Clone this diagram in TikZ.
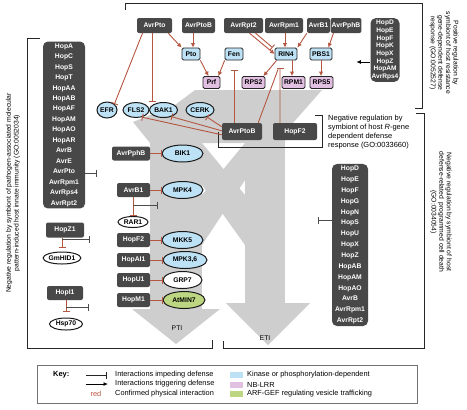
\documentclass[tikz,border=0pt]{standalone}
\usepackage{fontspec}
\setmainfont{Liberation Sans}
\usepackage{tikz}
\usetikzlibrary{arrows.meta,shapes.geometric}
\definecolor{effgray}{RGB}{72,72,72}
\definecolor{kinblue}{RGB}{190,226,245}
\definecolor{nbpink}{RGB}{226,192,226}
\definecolor{gefgreen}{RGB}{188,214,130}
\definecolor{physred}{RGB}{180,86,64}
\definecolor{flowgray}{RGB}{206,206,206}

\begin{document}
\begin{tikzpicture}[x=1bp,y=-1bp]
\tikzset{effector/.style={fill=effgray,text=white,rounded corners=2bp,inner xsep=1bp,inner ysep=0pt,minimum height=15bp,font=\fontsize{6.8}{7}\selectfont\bfseries}}
\tikzset{effectorlist/.style={effector,align=center,rounded corners=5bp,inner ysep=2bp}}
\tikzset{kinbox/.style={draw=black!85,fill=kinblue,rounded corners=1.5bp,line width=0.8bp,inner sep=1bp,minimum height=12bp,font=\fontsize{6.8}{7}\selectfont\bfseries}}
\tikzset{nbbox/.style={kinbox,fill=nbpink}}
\tikzset{kinell/.style={ellipse,draw=black!90,fill=kinblue,line width=1bp,inner sep=0pt,font=\fontsize{6.8}{7}\selectfont\bfseries}}
\tikzset{hostell/.style={kinell,fill=white},gefell/.style={kinell,fill=gefgreen}}
\tikzset{act/.style={draw=physred,line width=0.9bp,-{Latex[length=4.5bp,width=4.5bp]}}}
\tikzset{inh/.style={draw=physred,line width=0.9bp,-{Bar[width=7bp]}}}
\tikzset{ginh/.style={draw=black!70,line width=0.9bp,-{Bar[width=7bp]}}}
\tikzset{gact/.style={draw=black,line width=0.9bp,-{Latex[length=4.5bp,width=4bp]}}}
\tikzset{bracket/.style={draw=black!85,line width=0.8bp}}
\tikzset{note/.style={font=\fontsize{6.8}{7.6}\selectfont,align=center}}
\tikzset{keytext/.style={font=\fontsize{7.4}{8}\selectfont,anchor=west,inner sep=0pt}}

\useasboundingbox (0,0) rectangle (467,409);

% grey PTI / ETI flows
\fill[flowgray] (133,122) -- (175,105) -- (195,90) -- (322,90) -- (285,132) -- (285,143) -- (150,143) -- cycle;
\fill[flowgray] (150,140) rectangle (202,310);
\fill[flowgray] (132,309) -- (220,309) -- (176,344) -- cycle;
\fill[flowgray] (245,130) rectangle (285,304);
\fill[flowgray] (226,303) -- (310,303) -- (268,345) -- cycle;
\fill[flowgray] (202,143) -- (202,185) -- (245,245) -- (245,195) -- cycle;
\fill[flowgray] (245,143) -- (245,180) -- (202,245) -- (202,195) -- cycle;
\node[font=\fontsize{6.8}{8}\selectfont] (ptilabel) at (177,328) {PTI};
\node[font=\fontsize{6.8}{8}\selectfont] (etilabel) at (265,338) {ETI};

% brackets and their notes
\draw[bracket] (125,10) -- (125,3) -- (422,3) -- (422,108) -- (415,108);
\draw[bracket] (416,113) -- (424,113) -- (424,348) -- (223,348) -- (223,341);
\draw[bracket] (40,38) -- (27,38) -- (27,348) -- (212,348) -- (212,340);
\draw[bracket] (218,132) -- (218,147) -- (322,147) -- (322,115) -- (315,115);
\node[note,rotate=90] (ptinote) at (13,193) {Negative regulation by symbiont of pathogen-associated molecular\\pattern-induced host innate immunity (GO:0052034)};
\node[note,rotate=-90] (rgenenote) at (444,53) {Positive regulation by\\symbiont of host resistance\\gene-dependent defense\\response (GO:0052527)};
\node[note,rotate=-90] (etinote) at (441,212) {Negative regulation by symbiont of host\\defense-related\ \ programmed cell death\\(GO:0034054)};
\node[font=\fontsize{7.5}{9}\selectfont,align=left,anchor=north west,inner sep=0pt] (avrnote) at (328,115) {Negative regulation by\\symbiont of host \textit{R}-gene\\dependent defense\\response (GO:0033660)};

% ETI effectors and R-proteins
\node[effector,minimum width=35bp] (avrpto) at (154.5,25.5) {AvrPto};
\node[effector,minimum width=33bp] (avrptob) at (198.5,25.5) {AvrPtoB};
\node[effector,minimum width=39bp] (avrrpt2) at (243.5,25.5) {AvrRpt2};
\node[effector,minimum width=38bp] (avrrpm1) at (284,25.5) {AvrRpm1};
\node[effector,minimum width=23bp] (avrb1) at (318.5,25.5) {AvrB1};
\node[effector,minimum width=27bp] (avrpphb) at (346,25.5) {AvrPphB};
\node[effectorlist,minimum width=29bp,font=\fontsize{6.6}{7.7}\selectfont\bfseries] (rgenelist) at (385,50) {HopD\\HopE\\HopF\\HopK\\HopX\\HopZ\\HopAM\\AvrRps4};
\node[kinbox,minimum width=18bp] (pto) at (191,54) {Pto};
\node[kinbox,minimum width=18bp] (fen) at (234,54) {Fen};
\node[kinbox,minimum width=22bp] (rin4) at (286,54) {RIN4};
\node[kinbox,minimum width=22bp] (pbs1) at (321,54) {PBS1};
\node[nbbox,minimum width=17bp] (prf) at (211.5,82.5) {Prf};
\node[nbbox,minimum width=23bp] (rps2) at (253.5,82.5) {RPS2};
\node[nbbox,minimum width=23bp] (rpm1) at (293.5,82.5) {RPM1};
\node[nbbox,minimum width=23bp] (rps5) at (321.5,82.5) {RPS5};
\node[effector,minimum width=40bp,minimum height=17bp] (avrptobeti) at (242,131.5) {AvrPtoB};
\node[effector,minimum width=44bp,minimum height=17bp] (hopf2eti) at (295,131.5) {HopF2};
\node[effectorlist,minimum width=36bp,font=\fontsize{6.8}{10.9}\selectfont\bfseries] (etilist) at (350,245) {HopD\\HopE\\HopF\\HopG\\HopN\\HopS\\HopU\\HopX\\HopZ\\HopAB\\HopAM\\HopAO\\AvrB\\AvrRpm1\\AvrRpt2};

% PTI receptors and signalling
\node[kinell,minimum width=20bp,minimum height=16bp] (efr) at (107,110) {EFR};
\node[kinell,minimum width=26bp,minimum height=15bp] (fls2) at (136,110) {FLS2};
\node[kinell,minimum width=28bp,minimum height=15bp] (bak1) at (163.5,110) {BAK1};
\node[kinell,minimum width=28bp,minimum height=15bp] (cerk) at (200,110) {CERK};
\node[effectorlist,minimum width=42bp,font=\fontsize{6.8}{10.5}\selectfont\bfseries] (pamplist) at (64,125) {HopA\\HopC\\HopS\\HopT\\HopAA\\HopAB\\HopAF\\HopAM\\HopAO\\HopAR\\AvrB\\AvrE\\AvrPto\\AvrRpm1\\AvrRps4\\AvrRpt2};
\node[effector,minimum width=38bp,minimum height=14bp] (avrpphbpti) at (131,153.5) {AvrPphB};
\node[kinell,minimum width=41bp,minimum height=17bp] (bik1) at (182.5,153.5) {BIK1};
\node[effector,minimum width=33bp,minimum height=14bp] (avrb1pti) at (133.5,190) {AvrB1};
\node[kinell,minimum width=41bp,minimum height=17bp] (mpk4) at (182.5,190) {MPK4};
\node[hostell,minimum width=30bp,minimum height=11bp] (rar1) at (133,222) {RAR1};
\node[effector,minimum width=33bp,minimum height=14bp] (hopf2pti) at (133.5,240) {HopF2};
\node[kinell,minimum width=41bp,minimum height=17bp] (mkk5) at (182.5,240) {MKK5};
\node[effector,minimum width=33bp,minimum height=14bp] (hopai1) at (133.5,260) {HopAI1};
\node[kinell,minimum width=44bp,minimum height=17bp] (mpk36) at (185,260) {MPK3,6};
\node[effector,minimum width=33bp,minimum height=14bp] (hopu1) at (133.5,280) {HopU1};
\node[hostell,minimum width=39bp,minimum height=17bp] (grp7) at (182.5,280) {GRP7};
\node[effector,minimum width=33bp,minimum height=14bp] (hopm1) at (133.5,300) {HopM1};
\node[gefell,minimum width=42bp,minimum height=17bp] (atmin7) at (184,300) {AtMIN7};
\node[effector,minimum width=38bp,minimum height=15bp] (hopz1) at (65,230) {HopZ1};
\node[hostell,minimum width=36bp,minimum height=12bp] (gmhid1) at (62,258) {GmHID1};
\node[effector,minimum width=36bp,minimum height=14bp] (hopi1) at (65,293) {HopI1};
\node[hostell,minimum width=33bp,minimum height=12bp] (hsp70) at (66,324) {Hsp70};

% connectors at the top
\draw[act] ([xshift=-4bp]avrpto.south east) -- (pto.north west);
\draw[act] ([xshift=2bp]pto.north |- avrptob.south) -- ([xshift=2bp]pto.north);
\draw[act] (pto.south east) -- ([xshift=-3bp]prf.north);
\draw[act] (fen.south west) -- ([xshift=-2bp]prf.north east);
\draw[act] ([xshift=6bp]avrrpt2.south) -- (rin4.west);
\draw[inh] ([xshift=12bp]avrrpt2.south) -- ([xshift=-2bp]rin4.north west);
\draw[act] ([xshift=-1bp]rin4.north |- avrrpm1.south) -- ([xshift=-1bp]rin4.north);
\draw[act] (avrb1.south west) -- (rin4.north east);
\draw[act] ([xshift=3bp]avrpphb.south west) -- ([xshift=-4bp]pbs1.north east);
\draw[act] ([xshift=2bp]rin4.south west) -- ([xshift=-2bp]rps2.north east);
\draw[act] ([xshift=6bp]rin4.south) -- ([xshift=6bp]rin4.south |- rpm1.north);
\draw[act] (pbs1.south) -- (pbs1.south |- rps5.north);
\draw[gact] (rgenelist.west) ++(0,12) -- ++(-14,0);
\draw[inh] ([xshift=-12bp]avrpto.south) -- (efr.north east);
\draw[inh] ([xshift=-2bp]avrpto.south) -- ([xshift=-2bp]avrpto.south |- fls2.north);
\draw[inh] (fen.south |- avrptobeti.north) -- ([yshift=-10bp]fen.south);
\draw[physred,line width=0.9bp] ([xshift=-4bp]avrptobeti.north east) -- ([xshift=-8bp,yshift=-9bp]rin4.south);
\draw[inh] ([xshift=-15bp]hopf2eti.north) -- ([xshift=-6bp,yshift=-8bp]rin4.south);
\draw[inh] ([yshift=-4bp]avrptobeti.north west) -- (cerk.-45);
\draw[inh] ([yshift=-8bp]avrptobeti.north west) -- (bak1.-40);
\draw[inh] ([yshift=-12bp]avrptobeti.north west) -- (fls2.-50);
\draw[ginh] (etilist.west) ++(0,-25) -- ++(-14,0);

% connectors on the PTI side
\draw[ginh] (pamplist.east) ++(0,48) -- ++(12,0);
\draw[inh] (avrpphbpti.east) -- (bik1.west);
\draw[inh] (avrb1pti.east) -- (mpk4.west);
\draw[inh] (rar1.north |- avrb1pti.south) -- (rar1.north);
\draw[ginh] (rar1.north |- avrb1pti.south) ++(0,8) -- ++(25,0);
\draw[inh] (hopf2pti.east) -- (mkk5.west);
\draw[inh] (hopai1.east) -- (mpk36.west);
\draw[inh] (hopu1.east) -- (grp7.west);
\draw[inh] (hopm1.east) -- (atmin7.west);
\draw[inh] (gmhid1.north |- hopz1.south) -- ([yshift=4bp]gmhid1.north);
\draw[ginh] (gmhid1.north |- hopz1.south) ++(0,2) -- ++(28,0);
\draw[inh] (hsp70.north |- hopi1.south) -- ([yshift=6bp]hsp70.north);
\draw[ginh] (hsp70.north |- hopi1.south) ++(0,7) -- ++(23,0);

% key
\draw[draw=black!55,line width=0.7bp] (37,365) rectangle (417,403);
\node[font=\fontsize{7.5}{8}\selectfont\bfseries,anchor=west,inner sep=0pt] (keytitle) at (53,375) {Key:};
\coordinate (keyinhstart) at (86,375);
\draw[ginh,draw=black!85] (keyinhstart) -- ++(21,0);
\node[keytext] (keyinh) at (115,375) {Interactions impeding defense};
\coordinate (keyactstart) at (86,384);
\draw[gact] (keyactstart) -- ++(22,0);
\node[keytext] (keyact) at (115,384) {Interactions triggering defense};
\node[keytext,text=physred!90!red,anchor=center] (keyred) at (96,394) {red};
\node[keytext] (keyphys) at (115,394) {Confirmed physical interaction};
\node[fill=kinblue,minimum width=13bp,minimum height=6bp,inner sep=0pt] (swkin) at (236.5,375) {};
\node[keytext] (keykin) at (247,375) {Kinase or phosphorylation-dependent};
\node[fill=nbpink,minimum width=13bp,minimum height=6bp,inner sep=0pt] (swnb) at (236.5,384.5) {};
\node[keytext] (keynb) at (247,384.5) {NB-LRR};
\node[fill=gefgreen,minimum width=13bp,minimum height=6bp,inner sep=0pt] (swgef) at (236.5,394) {};
\node[keytext] (keygef) at (247,394) {ARF-GEF regulating vesicle trafficking};
\end{tikzpicture}
\end{document}
